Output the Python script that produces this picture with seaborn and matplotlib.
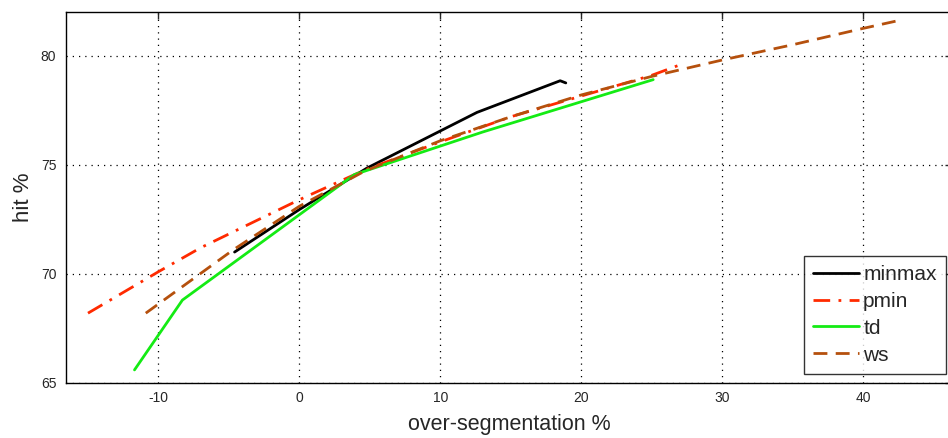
import numpy as np
import pandas as pd
import matplotlib
matplotlib.use("Agg")
import matplotlib.pyplot as plt
import seaborn as sns

# ---- data ----
minmax_x = [-4.6, 0.0, 4.8, 12.6, 18.5, 18.9]
minmax_y = [71.0, 72.95, 74.85, 77.4, 78.85, 78.75]

pmin_x = [-15.0, -10.0, -7.0, 0.0, 4.6, 10.0, 15.0, 20.0, 25.0, 27.3]
pmin_y = [68.2, 70.1, 71.2, 73.4, 74.75, 76.05, 77.2, 78.15, 79.1, 79.65]

td_x = [-11.7, -8.3, 3.9, 13.0, 25.1]
td_y = [65.6, 68.8, 74.55, 76.5, 78.9]

ws_x = [-10.9, -4.7, 0.0, 4.6, 10.0, 15.0, 20.0, 25.0, 30.0, 35.0, 40.0, 42.8]
ws_y = [68.2, 71.1, 73.1, 74.7, 76.1, 77.2, 78.2, 79.05, 79.8, 80.5, 81.25, 81.65]

series_names = ["minmax", "pmin", "td", "ws"]
x_ticks = [-10, 0, 10, 20, 30, 40]
y_ticks = [65, 70, 75, 80]

sns.set_style("white")
plt.rcParams["font.family"] = ["Liberation Sans", "DejaVu Sans"]

W, H = 948, 438
fig = plt.figure(figsize=(W / 100, H / 100), dpi=100)
ax = fig.add_axes([66 / W, 1 - 383 / H, (952 - 66) / W, (383 - 12) / H])

styles = {
    "minmax": dict(color="#000000", linestyle="-"),
    "pmin": dict(color="#ff2a00", linestyle=(0, (6, 3, 1, 3))),
    "td": dict(color="#14eb14", linestyle="-"),
    "ws": dict(color="#b5500d", linestyle=(0, (5, 3))),
}
data = {
    "minmax": (minmax_x, minmax_y),
    "pmin": (pmin_x, pmin_y),
    "td": (td_x, td_y),
    "ws": (ws_x, ws_y),
}
for name in series_names:
    xs, ys = data[name]
    df = pd.DataFrame({"x": xs, "y": ys})
    sns.lineplot(data=df, x="x", y="y", ax=ax, sort=False, estimator=None,
                 label=name, linewidth=2.0, **styles[name])

ax.set_xlim(-16.56, 46.3)
ax.set_ylim(65, 82)
ax.set_xticks(x_ticks)
ax.set_yticks(y_ticks)
ax.set_xticklabels([str(t) for t in x_ticks], fontsize=10)
ax.set_yticklabels([str(t) for t in y_ticks], fontsize=10)
ax.tick_params(axis="x", direction="in", length=5, top=True, width=1, pad=6)
ax.tick_params(axis="y", direction="in", length=5, right=True, width=1, pad=7)
ax.grid(True, linestyle=(0, (1, 4)), color="black", linewidth=0.9)
for s in ax.spines.values():
    s.set_color("black")
    s.set_linewidth(1.0)

ax.set_xlabel("over-segmentation %", fontsize=15.5, labelpad=6.5)
ax.set_ylabel("hit %", fontsize=16, labelpad=5)

leg = ax.legend(loc="lower right", fontsize=15, frameon=True, fancybox=False,
                edgecolor="black", handlelength=2.2, borderpad=0.45,
                labelspacing=0.38, handletextpad=0.2, borderaxespad=0.0,
                bbox_to_anchor=(946 / W, 1 - 374 / H),
                bbox_transform=fig.transFigure)
leg.get_frame().set_linewidth(1.0)

fig.savefig("out.png", dpi=100)
